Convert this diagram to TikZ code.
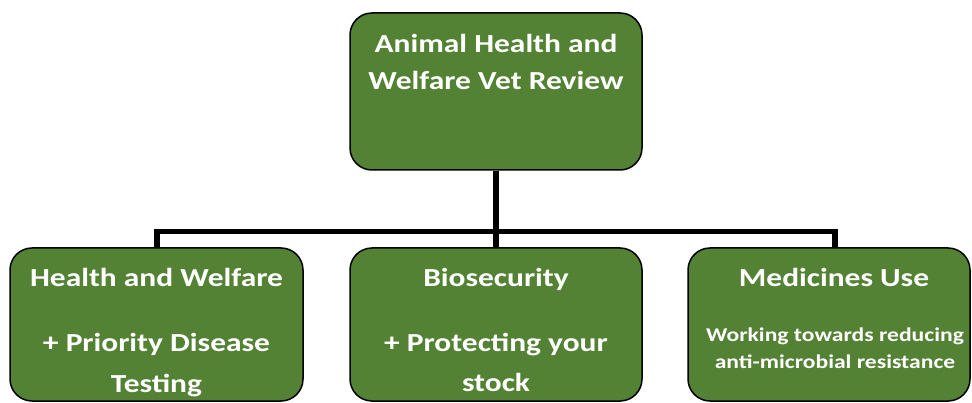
\documentclass[tikz,border=0pt]{standalone}
\usepackage{fontspec}
\setmainfont{Carlito}[FakeStretch=1.21]
\usetikzlibrary{positioning}
\definecolor{vetgreen}{RGB}{84,130,53}
\tikzset{
  box/.style={draw=black, line width=1.5pt, fill=vetgreen, rounded corners=22pt, inner sep=0pt},
  head/.style={text=white, font=\bfseries\fontsize{26}{31}\selectfont, anchor=base},
  small/.style={text=white, font=\bfseries\fontsize{19.5}{23}\selectfont, anchor=base},
  link/.style={line width=5.5pt}
}

\begin{document}
\begin{tikzpicture}[x=1pt,y=-1pt]
  \useasboundingbox (0,0) rectangle (972,403);

  % boxes
  \node[box, minimum width=292pt, minimum height=157pt] (review) at (496,91.5) {};
  \node[box, minimum width=293pt, minimum height=153pt] (hw) at (156.5,324.5) {};
  \node[box, minimum width=292pt, minimum height=153pt] (bio) at (496,324.5) {};
  \node[box, minimum width=282pt, minimum height=153pt] (med) at (829,324.5) {};

  % connectors
  \coordinate (busL) at (157,231.5);
  \coordinate (busR) at (835,231.5);
  \draw[link] (review.south) -- (bio.north);
  \draw[link] (busL |- hw.north) -- (busL) -- (busR) -- (busR |- med.north);

  % texts
  \node[head] (rev1) at (496,53) {Animal Health and};
  \node[head] (rev2) at (496,90) {Welfare Vet Review};
  \node[head] (hw1) at (156.5,287) {Health and Welfare};
  \node[head] (hw2) at (156.5,352) {+ Priority Disease};
  \node[head] (hw3) at (156.5,392) {Testing};
  \node[head] (bio1) at (496,287) {Biosecurity};
  \node[head] (bio2) at (496,352) {+ Protecting your};
  \node[head] (bio3) at (496,391) {stock};
  \node[head] (med1) at (834,287) {Medicines Use};
  \node[small] (med2) at (835,341.5) {Working towards reducing};
  \node[small] (med3) at (835,368) {anti-microbial resistance};
\end{tikzpicture}
\end{document}
